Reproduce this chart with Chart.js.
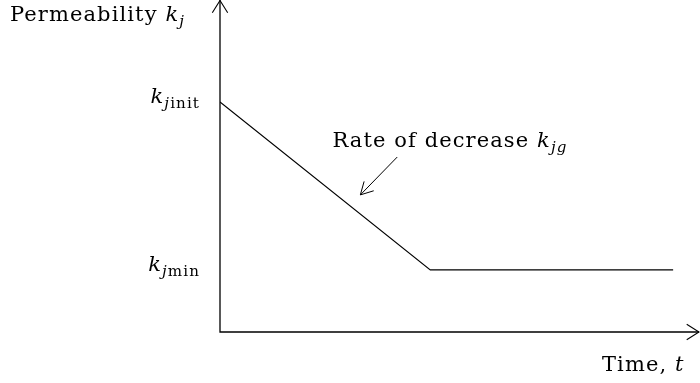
<!DOCTYPE html>
<html>
<head>
<meta charset="utf-8">
<script src="https://cdn.jsdelivr.net/npm/chart.js@4"></script>
<style>
  html, body { margin: 0; padding: 0; background: #fff; }
  #wrap { width: 700px; height: 383px; }
</style>
</head>
<body>
<div id="wrap"><canvas id="permChart"></canvas></div>
<script>
// schematic values (arbitrary units)
const times = [0, 4.39, 9.46];
const permeability = [0.693, 0.187, 0.187];
const kInit = 0.693;
const kMin = 0.187;
const tickLabels = [
    { value: kInit, parts: [['k', 'i'], ['j', 'is'], ['init', 's']] },
    { value: kMin, parts: [['k', 'i'], ['j', 'is'], ['min', 's']] }
];
const rateNote = { x: 4.80, y: 0.557, fromX: 3.70, fromY: 0.527, toX: 2.93, toY: 0.413 };

const FONT = '"DejaVu Serif", "Liberation Serif", serif';

// parts: [text, style] where style: '' normal, 'i' italic, 's' subscript, 'is' italic subscript
function drawRich(ctx, parts, x, y, align, size) {
    function fontFor(st) {
        const sz = st.indexOf('s') >= 0 ? size * 0.72 : size;
        return (st.indexOf('i') >= 0 ? 'italic ' : '') + sz + 'px ' + FONT;
    }
    ctx.letterSpacing = '1.1px';
    let total = 0;
    parts.forEach(p => { ctx.font = fontFor(p[1]); total += ctx.measureText(p[0]).width; });
    let cx = align === 'right' ? x - total : align === 'center' ? x - total / 2 : x;
    ctx.textAlign = 'left';
    ctx.textBaseline = 'alphabetic';
    parts.forEach(p => {
        ctx.font = fontFor(p[1]);
        const dy = p[1].indexOf('s') >= 0 ? size * 0.22 : 0;
        ctx.fillText(p[0], cx, y + dy);
        cx += ctx.measureText(p[0]).width;
    });
    ctx.letterSpacing = '0px';
}

function arrowHead(ctx, tx, ty, angle, len, spread) {
    ctx.beginPath();
    ctx.moveTo(tx - len * Math.cos(angle - spread), ty - len * Math.sin(angle - spread));
    ctx.lineTo(tx, ty);
    ctx.lineTo(tx - len * Math.cos(angle + spread), ty - len * Math.sin(angle + spread));
    ctx.stroke();
}

const sketchPlugin = {
    id: 'sketch',
    afterDatasetsDraw(chart) {
        const ctx = chart.ctx;
        const a = chart.chartArea;
        const xs = chart.scales.x, ys = chart.scales.y;
        ctx.save();
        ctx.strokeStyle = '#000';
        ctx.fillStyle = '#000';
        ctx.lineWidth = 1.3;
        // axes
        ctx.beginPath();
        ctx.moveTo(a.left, a.top);
        ctx.lineTo(a.left, a.bottom);
        ctx.lineTo(a.right, a.bottom);
        ctx.stroke();
        ctx.lineWidth = 1.1;
        arrowHead(ctx, a.left, a.top + 0.5, -Math.PI / 2, 14.5, 0.56);
        arrowHead(ctx, a.right, a.bottom, 0, 14.5, 0.56);
        // axis titles
        drawRich(ctx, [['Permeability ', ''], ['k', 'i'], ['j', 'is']], 10, 21, 'left', 21);
        drawRich(ctx, [['Time, ', ''], ['t', 'i']], 602, 371, 'left', 21);
        // tick labels
        tickLabels.forEach(t => {
            drawRich(ctx, t.parts, a.left - 20, ys.getPixelForValue(t.value) + 1, 'right', 21);
        });
        // annotation
        drawRich(ctx, [['Rate of decrease ', ''], ['k', 'i'], ['jg', 'is']],
            xs.getPixelForValue(rateNote.x), ys.getPixelForValue(rateNote.y), 'center', 21);
        const fx = xs.getPixelForValue(rateNote.fromX), fy = ys.getPixelForValue(rateNote.fromY);
        const tx = xs.getPixelForValue(rateNote.toX), ty = ys.getPixelForValue(rateNote.toY);
        ctx.lineWidth = 1;
        ctx.beginPath();
        ctx.moveTo(fx, fy);
        ctx.lineTo(tx, ty);
        ctx.stroke();
        arrowHead(ctx, tx, ty, Math.atan2(ty - fy, tx - fx), 14, 0.5);
        ctx.restore();
    }
};

new Chart(document.getElementById('permChart'), {
    type: 'line',
    data: {
        datasets: [{
            data: times.map((t, i) => ({ x: t, y: permeability[i] })),
            borderColor: '#000',
            borderWidth: 1.1,
            pointRadius: 0,
            tension: 0,
            fill: false
        }]
    },
    options: {
        responsive: true,
        maintainAspectRatio: false,
        animation: false,
        layout: { padding: { left: 220, right: 1, top: 0, bottom: 51 } },
        plugins: { legend: { display: false }, tooltip: { enabled: false } },
        scales: {
            x: { type: 'linear', min: 0, max: 10, display: false },
            y: { type: 'linear', min: 0, max: 1, display: false }
        }
    },
    plugins: [sketchPlugin]
});
</script>
</body>
</html>
